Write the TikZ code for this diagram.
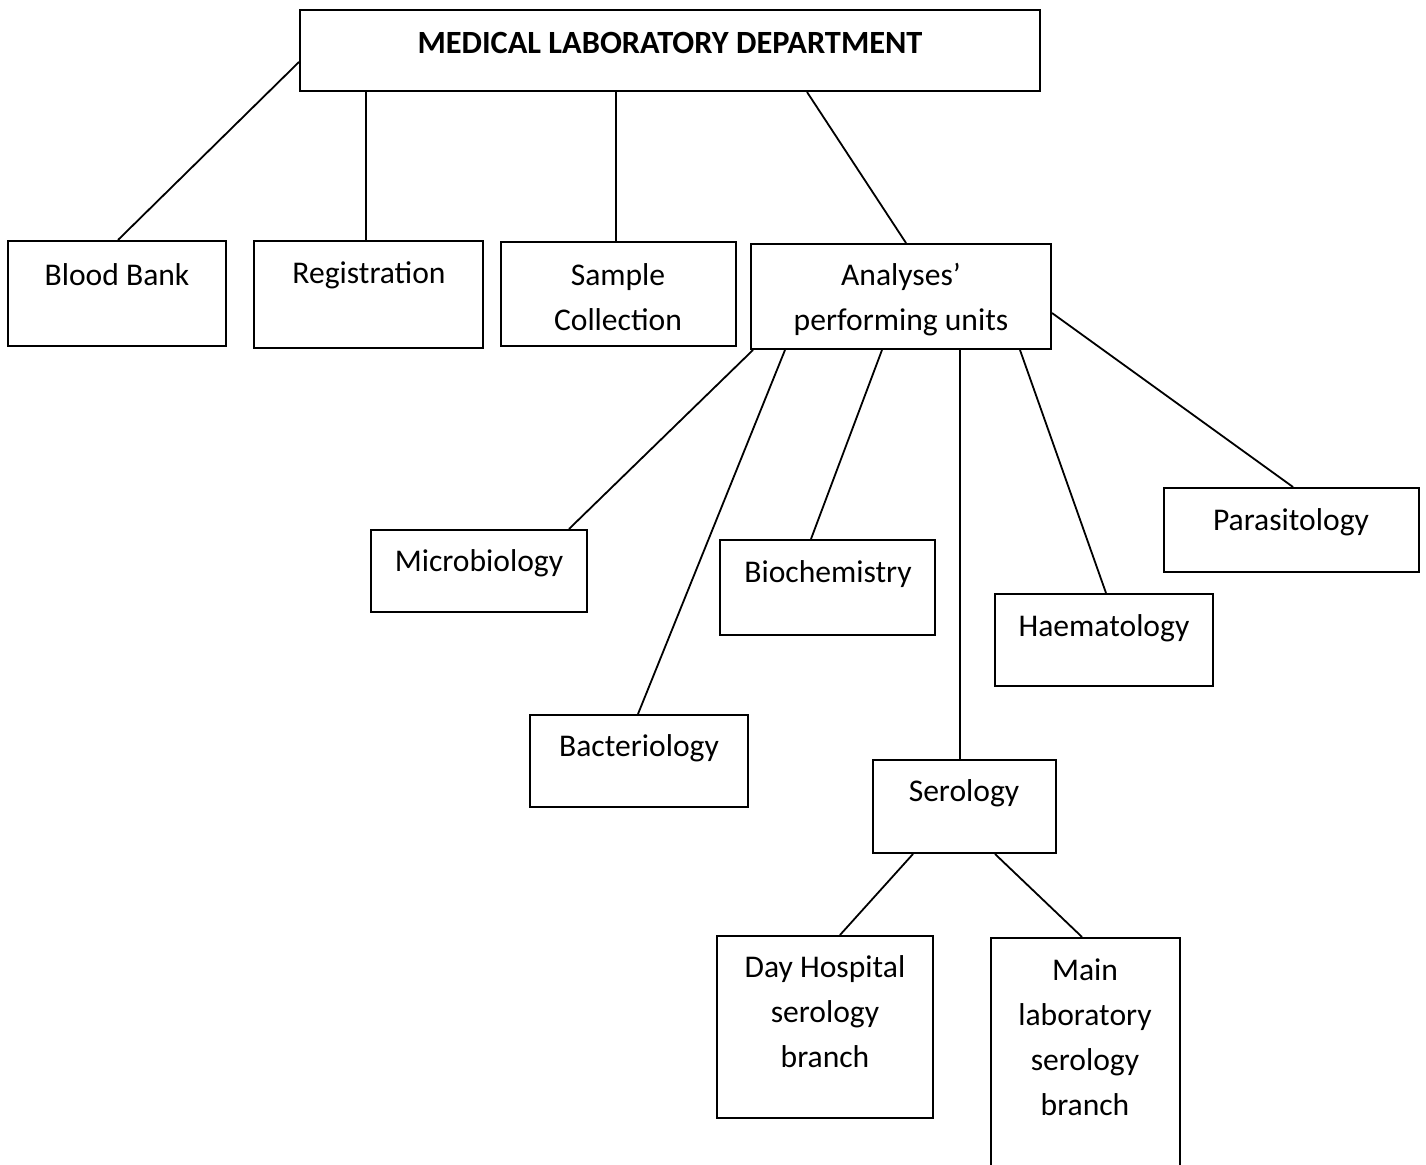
\documentclass[tikz,border=0pt]{standalone}
\usepackage{fontspec}
\setmainfont{Carlito}
\usetikzlibrary{fit}
\begin{document}
\begin{tikzpicture}[x=0.5pt,y=-0.5pt,
  box/.style={draw,line width=1pt,inner sep=0pt},
  lbl/.style={font=\fontsize{15.8}{22.5}\selectfont,align=center,inner sep=0pt},
  conn/.style={line width=0.9pt}]
\useasboundingbox (0,0) rectangle (1426,1165);
\clip (0,0) rectangle (1426,1165);
% boxes
\node[box,fit={(300,10) (1040,91)}] (top) {};
\node[box,fit={(8,241) (226,346)}] (bb) {};
\node[box,fit={(254,241) (483,348)}] (reg) {};
\node[box,fit={(501,242) (736,346)}] (sc) {};
\node[box,fit={(751,244) (1051,349)}] (an) {};
\node[box,fit={(371,530) (587,612)}] (mic) {};
\node[box,fit={(720,540) (935,635)}] (bio) {};
\node[box,fit={(1164,488) (1419,572)}] (par) {};
\node[box,fit={(995,594) (1213,686)}] (hae) {};
\node[box,fit={(530,715) (748,807)}] (bac) {};
\node[box,fit={(873,760) (1056,853)}] (ser) {};
\node[box,fit={(717,936) (933,1118)}] (day) {};
\node[box,fit={(991,938) (1180,1200)}] (main) {};
% labels
\node[lbl,font=\fontsize{16.2}{22.5}\selectfont\bfseries] (ttop) at (670,43) {MEDICAL LABORATORY DEPARTMENT};
\node[lbl] (tbb) at (117,275) {Blood Bank};
\node[lbl] (treg) at (369,275) {Registration};
\node[lbl] (tsc) at (618,297) {Sample\\Collection};
\node[lbl] (tan) at (901,300) {Analyses’\\performing units};
\node[lbl] (tmic) at (479,563) {Microbiology};
\node[lbl] (tbio) at (828,574) {Biochemistry};
\node[lbl] (tpar) at (1291,522) {Parasitology};
\node[lbl] (thae) at (1104,628) {Haematology};
\node[lbl] (tbac) at (639,748) {Bacteriology};
\node[lbl] (tser) at (964,793) {Serology};
\node[lbl] (tday) at (825,1012) {Day Hospital\\serology\\branch};
\node[lbl] (tmain) at (1085,1037) {Main\\laboratory\\serology\\branch};
% connectors
\draw[conn] (top.west |- 0,62) -- (bb.north -| 118,0);
\draw[conn] (top.south -| 366,0) -- (reg.north -| 366,0);
\draw[conn] (top.south -| 616,0) -- (sc.north -| 616,0);
\draw[conn] (top.south -| 807,0) -- (an.north -| 906,0);
\draw[conn] (an.south -| 753,0) -- (mic.north -| 569,0);
\draw[conn] (an.south -| 785,0) -- (bac.north -| 638,0);
\draw[conn] (an.south -| 882,0) -- (bio.north -| 811,0);
\draw[conn] (an.south -| 960,0) -- (ser.north -| 960,0);
\draw[conn] (an.south -| 1020,0) -- (hae.north -| 1106,0);
\draw[conn] (an.east |- 0,313) -- (par.north -| 1293,0);
\draw[conn] (ser.south -| 913,0) -- (day.north -| 840,0);
\draw[conn] (ser.south -| 995,0) -- (main.north -| 1082,0);
\end{tikzpicture}
\end{document}
